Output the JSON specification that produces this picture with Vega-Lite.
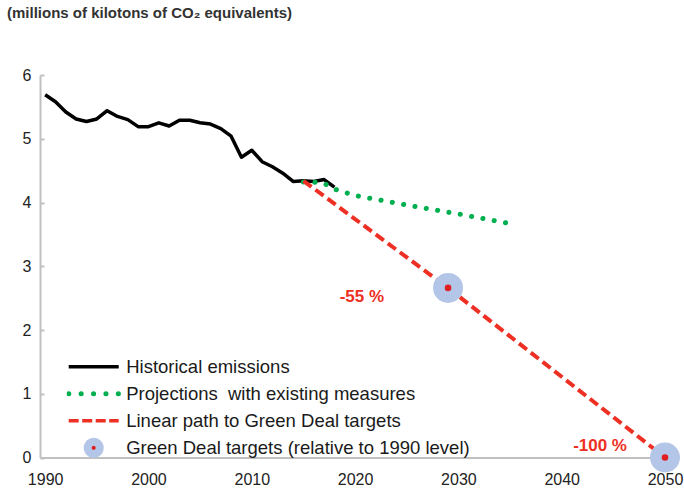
{
  "$schema": "https://vega.github.io/schema/vega-lite/v6.json",
  "width": 625,
  "height": 382.5,
  "autosize": {"type": "none"},
  "padding": {"left": 40, "top": 75, "right": 19, "bottom": 34.5},
  "config": {
    "font": "Liberation Sans",
    "view": {"stroke": null}
  },
  "title": {
    "text": "(millions of kilotons of CO₂ equivalents)",
    "anchor": "start",
    "frame": "group",
    "dx": -33,
    "offset": 46,
    "fontSize": 15,
    "fontWeight": "bold",
    "color": "#333333",
    "font": "Liberation Sans"
  },
  "datasets": {
    "lines": [
      {"year": 1990, "value": 5.69, "series": "Historical emissions"},
      {"year": 1991, "value": 5.58, "series": "Historical emissions"},
      {"year": 1992, "value": 5.42, "series": "Historical emissions"},
      {"year": 1993, "value": 5.31, "series": "Historical emissions"},
      {"year": 1994, "value": 5.27, "series": "Historical emissions"},
      {"year": 1995, "value": 5.31, "series": "Historical emissions"},
      {"year": 1996, "value": 5.44, "series": "Historical emissions"},
      {"year": 1997, "value": 5.35, "series": "Historical emissions"},
      {"year": 1998, "value": 5.30, "series": "Historical emissions"},
      {"year": 1999, "value": 5.19, "series": "Historical emissions"},
      {"year": 2000, "value": 5.19, "series": "Historical emissions"},
      {"year": 2001, "value": 5.25, "series": "Historical emissions"},
      {"year": 2002, "value": 5.20, "series": "Historical emissions"},
      {"year": 2003, "value": 5.29, "series": "Historical emissions"},
      {"year": 2004, "value": 5.29, "series": "Historical emissions"},
      {"year": 2005, "value": 5.25, "series": "Historical emissions"},
      {"year": 2006, "value": 5.23, "series": "Historical emissions"},
      {"year": 2007, "value": 5.16, "series": "Historical emissions"},
      {"year": 2008, "value": 5.04, "series": "Historical emissions"},
      {"year": 2009, "value": 4.71, "series": "Historical emissions"},
      {"year": 2010, "value": 4.82, "series": "Historical emissions"},
      {"year": 2011, "value": 4.64, "series": "Historical emissions"},
      {"year": 2012, "value": 4.56, "series": "Historical emissions"},
      {"year": 2013, "value": 4.46, "series": "Historical emissions"},
      {"year": 2014, "value": 4.33, "series": "Historical emissions"},
      {"year": 2015, "value": 4.34, "series": "Historical emissions"},
      {"year": 2016, "value": 4.33, "series": "Historical emissions"},
      {"year": 2017, "value": 4.36, "series": "Historical emissions"},
      {"year": 2018, "value": 4.24, "series": "Historical emissions"},
      {"year": 2015, "value": 4.32, "series": "Projections  with existing measures"},
      {"year": 2016, "value": 4.32, "series": "Projections  with existing measures"},
      {"year": 2017, "value": 4.30, "series": "Projections  with existing measures"},
      {"year": 2018, "value": 4.21, "series": "Projections  with existing measures"},
      {"year": 2019, "value": 4.16, "series": "Projections  with existing measures"},
      {"year": 2020, "value": 4.11, "series": "Projections  with existing measures"},
      {"year": 2025, "value": 3.96, "series": "Projections  with existing measures"},
      {"year": 2030, "value": 3.82, "series": "Projections  with existing measures"},
      {"year": 2035, "value": 3.67, "series": "Projections  with existing measures"},
      {"year": 2015, "value": 4.34, "series": "Linear path to Green Deal targets"},
      {"year": 2029, "value": 2.66, "series": "Linear path to Green Deal targets"},
      {"year": 2050, "value": 0, "series": "Linear path to Green Deal targets"}
    ],
    "targets": [
      {"year": 2029, "value": 2.66, "label": "-55 %"},
      {"year": 2050, "value": 0, "label": "-100 %"}
    ]
  },
  "encoding": {
    "x": {
      "field": "year",
      "type": "quantitative",
      "scale": {"domain": [1989.5, 2050], "nice": false, "zero": false},
      "axis": {
        "title": null,
        "values": [1990, 2000, 2010, 2020, 2030, 2040, 2050],
        "format": "d",
        "grid": false,
        "ticks": false,
        "labelFlush": false,
        "labelFontSize": 16,
        "labelColor": "#222222",
        "labelPadding": 14,
        "domainColor": "#c0c0c0",
        "domainWidth": 2
      }
    },
    "y": {
      "field": "value",
      "type": "quantitative",
      "scale": {"domain": [0, 6], "nice": false},
      "axis": {
        "title": null,
        "values": [0, 1, 2, 3, 4, 5, 6],
        "grid": false,
        "tickSize": -4,
        "tickColor": "#c0c0c0",
        "tickWidth": 2,
        "labelFontSize": 16,
        "labelColor": "#222222",
        "labelPadding": 13,
        "domainColor": "#c0c0c0",
        "domainWidth": 2
      }
    }
  },
  "layer": [
    {
      "data": {"name": "lines"},
      "transform": [{"filter": "datum.series === 'Historical emissions'"}],
      "mark": {"type": "line", "strokeWidth": 3.5, "strokeJoin": "round"},
      "encoding": {
        "color": {
          "field": "series",
          "type": "nominal",
          "scale": {
            "domain": ["Historical emissions", "Projections  with existing measures", "Linear path to Green Deal targets", "Green Deal targets (relative to 1990 level)"],
            "range": ["#000000", "#00b050", "#ee2f24", "#b4c6e7"]
          },
          "legend": {
            "title": null,
            "orient": "none",
            "legendX": 26.7,
            "legendY": 278.7,
            "columns": 1,
            "padding": 0,
            "symbolType": "stroke",
            "symbolSize": 2500,
            "clipHeight": 26.3,
            "rowPadding": 0,
            "labelOffset": 5.5,
            "labelFontSize": 18.5,
            "labelColor": "#1a1a1a",
            "labelLimit": 600,
            "labelExpr": "replace(datum.label, '  ', '\u00a0 ')",
            "encode": {
              "symbols": {
                "update": {
                  "shape": {"signal": "(datum.index === 3 ? 'M0.24,0A0.24,0.24,0,1,1,-0.24,0A0.24,0.24,0,1,1,0.24,0Z' : 'stroke')"},
                  "fill": {"signal": "(datum.index === 3 ? '#e02020' : 'transparent')"},
                  "strokeWidth": {"signal": "(datum.index === 3 ? 8 : (datum.index === 1 ? 5 : 3.5))"},
                  "strokeDash": {"signal": "(datum.index === 1 ? [0.1, 12.3] : (datum.index === 2 ? [10, 3.5] : [1, 0]))"},
                  "strokeCap": {"signal": "(datum.index === 1 ? 'round' : 'butt')"},
                  "opacity": {"value": 1}
                }
              }
            }
          }
        }
      }
    },
    {
      "data": {"name": "lines"},
      "transform": [{"filter": "datum.series === 'Projections  with existing measures'"}],
      "mark": {"type": "line", "strokeWidth": 5, "strokeDash": [0.1, 11.4], "strokeCap": "round"},
      "encoding": {"color": {"field": "series", "type": "nominal"}}
    },
    {
      "data": {"name": "lines"},
      "transform": [{"filter": "datum.series === 'Linear path to Green Deal targets'"}],
      "mark": {"type": "line", "strokeWidth": 4, "strokeDash": [10, 5]},
      "encoding": {"color": {"field": "series", "type": "nominal"}}
    },
    {
      "data": {"name": "targets"},
      "mark": {"type": "point", "shape": "circle", "filled": true, "fill": "#e02020", "stroke": "#b4c6e7", "strokeWidth": 11.7, "size": 335, "opacity": 1, "fillOpacity": 1, "strokeOpacity": 1}
    },
    {
      "data": {"name": "targets"},
      "transform": [{"filter": "datum.label === '-55 %'"}],
      "mark": {"type": "text", "align": "right", "baseline": "middle", "dx": -64, "dy": 9, "fontSize": 17, "fontWeight": "bold", "color": "#ee2f24"},
      "encoding": {"text": {"field": "label"}}
    },
    {
      "data": {"name": "targets"},
      "transform": [{"filter": "datum.label === '-100 %'"}],
      "mark": {"type": "text", "align": "right", "baseline": "middle", "dx": -38, "dy": -12, "fontSize": 17, "fontWeight": "bold", "color": "#ee2f24"},
      "encoding": {"text": {"field": "label"}}
    }
  ]
}
